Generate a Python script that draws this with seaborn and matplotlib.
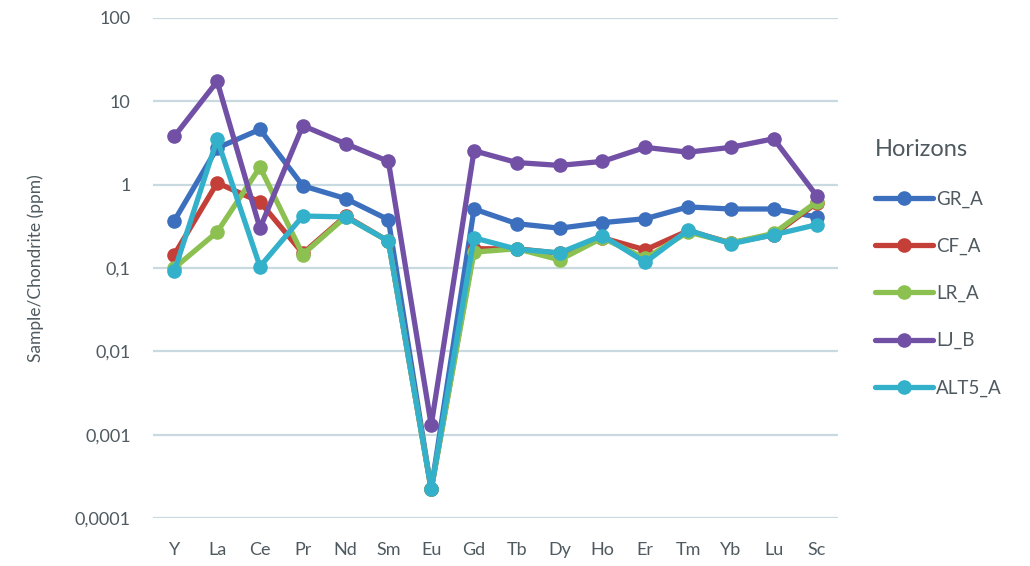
import numpy as np
import pandas as pd
import matplotlib
matplotlib.use("Agg")
import matplotlib.pyplot as plt
import matplotlib.ticker as mticker
import seaborn as sns

# chondrite-normalised REE values
elements = ['Y', 'La', 'Ce', 'Pr', 'Nd', 'Sm', 'Eu', 'Gd', 'Tb', 'Dy', 'Ho', 'Er', 'Tm', 'Yb', 'Lu', 'Sc']
gr_a = [0.37, 2.75, 4.6, 0.97, 0.68, 0.38, 0.00022, 0.51, 0.34, 0.30, 0.35, 0.39, 0.54, 0.51, 0.51, 0.41]
cf_a = [0.145, 1.05, 0.62, 0.15, 0.42, 0.21, 0.00022, 0.17, 0.17, 0.15, 0.23, 0.165, 0.28, 0.20, 0.25, 0.60]
lr_a = [0.10, 0.27, 1.62, 0.145, 0.41, 0.21, 0.00022, 0.155, 0.17, 0.125, 0.23, 0.13, 0.27, 0.20, 0.26, 0.62]
lj_b = [3.8, 17.3, 0.30, 5.1, 3.1, 1.9, 0.0013, 2.55, 1.84, 1.70, 1.90, 2.80, 2.45, 2.80, 3.55, 0.74]
alt5_a = [0.092, 3.5, 0.104, 0.42, 0.41, 0.21, 0.00022, 0.23, 0.168, 0.152, 0.245, 0.117, 0.285, 0.195, 0.25, 0.33]

horizons = ['GR_A', 'CF_A', 'LR_A', 'LJ_B', 'ALT5_A']
colors = ['#3C70BE', '#C43F38', '#8CC152', '#7150A6', '#33B0CA']

df = pd.DataFrame({'GR_A': gr_a, 'CF_A': cf_a, 'LR_A': lr_a, 'LJ_B': lj_b, 'ALT5_A': alt5_a})
df['Element'] = elements
long = df.melt(id_vars='Element', var_name='Horizon', value_name='Value')

sns.set_style('white')
plt.rcParams['font.family'] = ['Lato', 'DejaVu Sans']
txt = '#4F5A60'

fig = plt.figure(figsize=(10.3, 5.66), dpi=100)
ax = fig.add_axes([0.1485, 0.0848, 0.665, 0.8835])

sns.lineplot(data=long, x='Element', y='Value', hue='Horizon', hue_order=horizons,
             palette=colors, marker='o', markersize=10.5, markeredgewidth=0,
             linewidth=3.8, sort=False, ax=ax)

ax.set_yscale('log')
ax.set_ylim(0.0001, 100)
ax.set_xlim(-0.5, len(elements) - 0.5)
ax.yaxis.set_major_locator(mticker.FixedLocator([1e-4, 1e-3, 1e-2, 1e-1, 1, 10, 100]))
ax.yaxis.set_minor_locator(mticker.NullLocator())
ax.yaxis.set_major_formatter(mticker.FuncFormatter(
    lambda v, p: ('%g' % v).replace('.', ',') if v >= 1e-3 else '0,0001'))
ax.grid(axis='y', color='#C9D9E0', linewidth=1.6)
ax.set_axisbelow(True)
for s in ax.spines.values():
    s.set_visible(False)
ax.tick_params(axis='both', length=0, labelsize=13, labelcolor=txt)
ax.tick_params(axis='x', pad=17)
ax.tick_params(axis='y', pad=16)
ax.set_xlabel('')
ax.set_ylabel('Sample/Chondrite (ppm)', fontsize=12.5, color=txt, labelpad=22)

leg = ax.legend(title='Horizons', loc='center left', bbox_to_anchor=(1.03, 0.5),
                frameon=False, fontsize=13.5, title_fontsize=17,
                handlelength=3.1, handletextpad=0.15, labelspacing=1.6,
                alignment='left')
for t in leg.get_texts():
    t.set_color(txt)
leg.get_title().set_color(txt)

fig.savefig('out.png', dpi=100)
